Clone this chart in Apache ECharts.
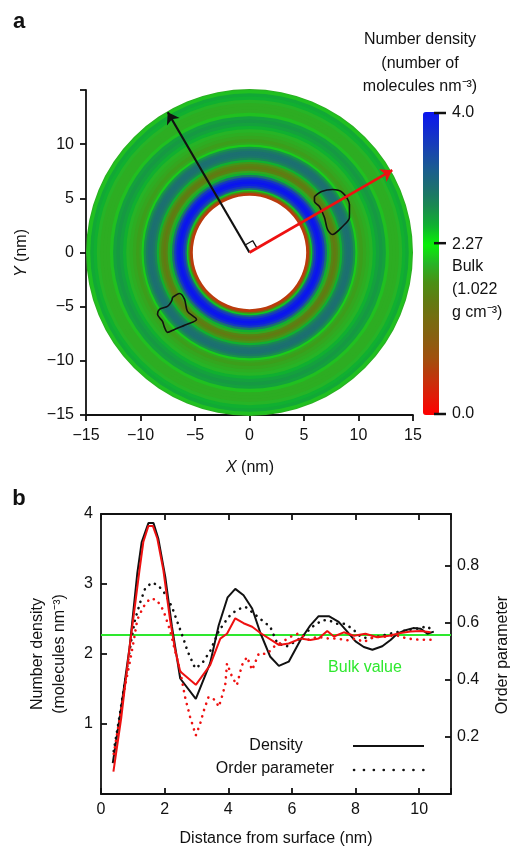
<!DOCTYPE html>
<html><head><meta charset="utf-8">
<script src="https://cdn.jsdelivr.net/npm/echarts@6/dist/echarts.min.js"></script>
<style>html,body{margin:0;padding:0;background:#fff}#c{width:515px;height:847px}</style>
</head><body><div id="c"></div>
<script>
'use strict';
// a: radial density map around the particle, b: density / order profiles vs distance

// ── panel a data ─────────────────────────────────────────────
// ring edges (nm) and the density read for each ring
const ringR = [5.2, 5.35, 5.5, 5.65, 5.8, 6.0, 6.2, 6.4, 6.6, 6.8, 7.0, 7.2, 7.4, 7.6, 7.8, 8.0, 8.2, 8.4, 8.6, 8.8, 9.0,
  9.2, 9.4, 9.6, 9.8, 10.0, 10.3, 10.6, 10.9, 11.2, 11.5, 11.8, 12.1, 12.4, 12.7, 13.0, 13.3, 13.6, 13.9, 14.2, 14.5, 14.8, 15.0];
const ringDensity = [0.55, 1.5, 2.4, 3.1, 3.6, 3.9, 4.0, 3.9, 3.6, 3.0, 2.5, 1.9, 1.6, 1.5, 1.6, 1.8, 2.5, 2.8, 2.95, 3.0,
  3.0, 2.9, 2.7, 2.1, 1.9, 1.85, 1.9, 1.95, 2.0, 2.5, 2.6, 2.65, 2.6, 2.05, 1.95, 1.95, 1.95, 2.0, 2.5, 2.55, 2.05, 1.95];
const defectA = [[5.96, 5.16], [6.61, 5.62], [7.61, 5.81], [8.53, 5.53], [9.17, 4.42], [9.17, 3.23], [8.53, 2.40], [7.61, 1.66],
  [7.16, 2.12], [6.88, 3.23], [6.42, 4.24], [5.96, 4.70], [5.96, 5.16]];
const defectB = [[-7.06, -4.15], [-6.42, -3.78], [-5.96, -4.33], [-5.69, -5.44], [-4.86, -6.18], [-5.78, -6.64], [-6.88, -7.10],
  [-7.52, -7.37], [-7.80, -6.91], [-7.98, -6.36], [-8.44, -5.71], [-8.26, -5.25], [-7.52, -4.98], [-7.16, -4.52], [-7.06, -4.15]];
const arrowBlack = [[0, 0], [-7.5, 12.95]];
const arrowRed = [[0, 0], [13.1, 7.6]];
const rightAngle = [[0.69, 0.40], [0.29, 1.09], [-0.40, 0.69]];
const cbarTicks = [4.0, 2.27, 0.0];

// ── panel b data: [distance nm, value] ───────────────────────
const densBlack = [[0.37, 0.44], [0.64, 1.25], [0.90, 2.1], [1.14, 3.15], [1.28, 3.6], [1.49, 3.87], [1.65, 3.87], [1.80, 3.65],
  [2.02, 3.10], [2.23, 2.39], [2.49, 1.65], [2.98, 1.36], [3.43, 1.87], [3.70, 2.41], [3.98, 2.81], [4.22, 2.93], [4.48, 2.84],
  [4.75, 2.65], [5.01, 2.30], [5.32, 1.96], [5.59, 1.83], [5.90, 1.89], [6.27, 2.2], [6.58, 2.41], [6.84, 2.54], [7.16, 2.54],
  [7.47, 2.46], [7.74, 2.32], [8.0, 2.18], [8.26, 2.10], [8.53, 2.06], [8.84, 2.11], [9.10, 2.2], [9.31, 2.29], [9.57, 2.34],
  [9.81, 2.37], [10.05, 2.36], [10.26, 2.29], [10.46, 2.32]];
const densRed = [[0.39, 0.32], [0.64, 1.1], [0.90, 2.1], [1.21, 3.2], [1.33, 3.6], [1.49, 3.83], [1.63, 3.83], [1.77, 3.65],
  [1.96, 3.2], [2.17, 2.49], [2.33, 2.06], [2.49, 1.75], [2.98, 1.56], [3.43, 1.84], [3.75, 2.22], [3.96, 2.29], [4.22, 2.51],
  [4.48, 2.44], [4.75, 2.39], [5.01, 2.30], [5.59, 2.13], [5.90, 2.15], [6.27, 2.22], [6.58, 2.2], [6.84, 2.22], [7.11, 2.33],
  [7.32, 2.25], [7.63, 2.31], [7.95, 2.26], [8.31, 2.29], [8.68, 2.24], [9.05, 2.26], [9.42, 2.30], [9.73, 2.32], [10.05, 2.33],
  [10.36, 2.31]];
const orderBlack = [[0.40, 0.15], [0.55, 0.25], [0.76, 0.40], [0.97, 0.55], [1.07, 0.61], [1.23, 0.67], [1.39, 0.72], [1.60, 0.74],
  [1.80, 0.73], [2.02, 0.70], [2.23, 0.655], [2.44, 0.59], [2.59, 0.544], [2.72, 0.50], [2.96, 0.44], [3.17, 0.456], [3.43, 0.50],
  [3.70, 0.57], [4.01, 0.62], [4.27, 0.645], [4.54, 0.655], [4.80, 0.632], [5.06, 0.608], [5.32, 0.585], [5.53, 0.53], [5.80, 0.515],
  [6.05, 0.53], [6.32, 0.55], [6.64, 0.585], [6.95, 0.608], [7.16, 0.608], [7.42, 0.596], [7.63, 0.596], [7.90, 0.579], [8.16, 0.55],
  [8.42, 0.544], [8.68, 0.55], [9.0, 0.559], [9.31, 0.567], [9.63, 0.573], [9.94, 0.579], [10.26, 0.587], [10.45, 0.567]];
const orderRed = [[0.40, 0.14], [0.55, 0.24], [0.76, 0.38], [0.92, 0.47], [1.02, 0.53], [1.14, 0.61], [1.33, 0.655], [1.54, 0.684],
  [1.75, 0.68], [1.96, 0.643], [2.17, 0.573], [2.33, 0.50], [2.49, 0.43], [2.64, 0.34], [2.80, 0.27], [2.98, 0.205], [3.12, 0.247],
  [3.22, 0.288], [3.38, 0.34], [3.59, 0.329], [3.70, 0.305], [3.80, 0.34], [3.91, 0.386], [3.96, 0.457], [4.12, 0.41], [4.27, 0.381],
  [4.43, 0.451], [4.59, 0.48], [4.75, 0.434], [4.96, 0.492], [5.22, 0.49], [5.43, 0.515], [5.69, 0.532], [5.95, 0.55], [6.21, 0.562],
  [6.53, 0.54], [6.79, 0.55], [7.16, 0.544], [7.42, 0.544], [7.74, 0.538], [8.0, 0.544], [8.26, 0.532], [8.58, 0.55], [8.9, 0.55],
  [9.26, 0.556], [9.63, 0.544], [9.99, 0.54], [10.45, 0.54]];
const bulkDensity = 2.27;

// ── style ────────────────────────────────────────────────────
const FONT = "'Liberation Sans', Arial, sans-serif";
const INK = '#111';
const RED = '#ee1111';
const GREEN = '#2ee82e';
// colour ramp, evenly spaced from 0 to 4
const CMAP = ['#ff0000', '#e01c08', '#c0360c', '#a0500e', '#8a5e10', '#786c10', '#627a12', '#4a9014', '#26b426',
  '#08f008', '#10b030', '#1a8a50', '#1c7070', '#1a5c90', '#1844b0', '#122cd0', '#0a14f0'];

const minus = v => String(v).replace('-', '\u2212');
const txt = (x, y, s, o, rot) => ({ type: 'text', x, y, rotation: rot || 0,
  style: Object.assign({ text: s, font: '16px ' + FONT, fill: INK, align: 'center', verticalAlign: 'middle' }, o || {}) });
const italicRich = { i: { fontStyle: 'italic', fontFamily: FONT, fontSize: 16 } };

const axisBase = {
  axisLine: { onZero: false, lineStyle: { color: INK, width: 1.8 } },
  axisTick: { lineStyle: { color: INK, width: 1.8 }, length: 6 },
  axisLabel: { color: INK, fontFamily: FONT, fontSize: 16 },
  splitLine: { show: false }
};
const ax = (o, tick, label) => Object.assign({}, axisBase, o, {
  axisTick: Object.assign({}, axisBase.axisTick, tick || {}),
  axisLabel: Object.assign({}, axisBase.axisLabel, label || {})
});

// outer rings first so each inner ring can overlap its neighbour by a pixel (no seams)
const ringData = ringDensity.map((d, i) => [ringR[i], ringR[i + 1], d]).reverse();

const chart = echarts.init(document.getElementById('c'));
chart.setOption({
  animation: false,
  grid: [
    { left: 86, top: 90, width: 327, height: 325 },
    { left: 101, top: 514, width: 350, height: 280 }
  ],
  xAxis: [
    ax({ gridIndex: 0, type: 'value', min: -15, max: 15, interval: 5 }, null, { margin: 13, formatter: minus }),
    ax({ gridIndex: 1, type: 'value', min: 0, max: 11, interval: 2 }, { inside: true },
      { margin: 8, formatter: v => v % 2 ? '' : v }),
    ax({ gridIndex: 1, type: 'value', position: 'top', min: 0, max: 11, interval: 2 }, { inside: true }, { show: false })
  ],
  yAxis: [
    ax({ gridIndex: 0, type: 'value', min: -15, max: 15, interval: 5 }, null,
      { margin: 12, formatter: v => v === 15 ? '' : minus(v) }),
    ax({ gridIndex: 1, type: 'value', min: 0, max: 4, interval: 1 }, { inside: true },
      { margin: 8, formatter: v => v === 0 ? '' : v }),
    ax({ gridIndex: 1, type: 'value', position: 'right', min: 0, max: 0.98, interval: 0.2 }, { inside: true },
      { margin: 6, formatter: v => (v > 0.1 && v < 0.9) ? v.toFixed(1) : '' })
  ],
  visualMap: {
    type: 'continuous', seriesIndex: 0, dimension: 2, min: 0, max: 4,
    inRange: { color: CMAP }, calculable: false, hoverLink: false,
    left: 423, top: 112, itemWidth: 16, itemHeight: 303, padding: 0, text: null
  },
  series: [
    {
      type: 'custom', xAxisIndex: 0, yAxisIndex: 0, data: ringData, z: 1, silent: true,
      renderItem: (params, api) => {
        const c = api.coord([0, 0]);
        const r0 = api.coord([api.value(0), 0])[0] - c[0];
        const r1 = api.coord([api.value(1), 0])[0] - c[0];
        const last = api.value(1) >= 15;
        return { type: 'ring', shape: { cx: c[0], cy: c[1], r0: r0, r: last ? r1 : r1 + 1.2 },
          style: { fill: api.visual('color') } };
      }
    },
    { type: 'line', xAxisIndex: 0, yAxisIndex: 0, data: defectA, smooth: 0.3, symbol: 'none', z: 3,
      lineStyle: { color: INK, width: 1.6 } },
    { type: 'line', xAxisIndex: 0, yAxisIndex: 0, data: defectB, smooth: 0.3, symbol: 'none', z: 3,
      lineStyle: { color: INK, width: 1.6 } },
    { type: 'line', xAxisIndex: 0, yAxisIndex: 0, data: rightAngle, symbol: 'none', z: 3,
      lineStyle: { color: INK, width: 1.3 } },
    { type: 'lines', coordinateSystem: 'cartesian2d', xAxisIndex: 0, yAxisIndex: 0, z: 4,
      symbol: ['none', 'arrow'], symbolSize: 11,
      data: [
        { coords: arrowBlack, lineStyle: { color: INK, width: 2.2, opacity: 1 } },
        { coords: arrowRed, lineStyle: { color: RED, width: 2.6, opacity: 1 } }
      ] },

    // panel b
    { type: 'line', xAxisIndex: 1, yAxisIndex: 1, data: densBlack, symbol: 'none', z: 4,
      lineStyle: { color: INK, width: 2 },
      markLine: { silent: true, symbol: 'none', label: { show: false }, z: 2,
        lineStyle: { color: GREEN, width: 2, type: 'solid' }, data: [{ yAxis: bulkDensity }] } },
    { type: 'line', xAxisIndex: 1, yAxisIndex: 1, data: densRed, symbol: 'none', z: 5,
      lineStyle: { color: RED, width: 2 } },
    { type: 'line', xAxisIndex: 1, yAxisIndex: 2, data: orderBlack, symbol: 'none', z: 4,
      lineStyle: { color: INK, width: 2.6, type: [0.1, 6.5], cap: 'round' } },
    { type: 'line', xAxisIndex: 1, yAxisIndex: 2, data: orderRed, symbol: 'none', z: 5,
      lineStyle: { color: RED, width: 2.6, type: [0.1, 6.5], cap: 'round' } }
  ],
  graphic: [
    txt(19, 22, 'a', { font: 'bold 22px ' + FONT }),
    txt(19, 499, 'b', { font: 'bold 22px ' + FONT }),
    // colour bar title and labels
    txt(420, 40, 'Number density'),
    txt(420, 64, '(number of'),
    txt(420, 87, 'molecules nm\u207B\u00B3)'),
    txt(452, 113, '4.0', { align: 'left' }),
    txt(452, 245, '2.27', { align: 'left' }),
    txt(452, 267, 'Bulk', { align: 'left' }),
    txt(452, 290, '(1.022', { align: 'left' }),
    txt(452, 313, 'g cm\u207B\u00B3)', { align: 'left' }),
    txt(452, 414, '0.0', { align: 'left' }),
    ...cbarTicks.map(v => ({ type: 'line', z: 10,
      shape: { x1: 434, y1: 414 - v / 4 * 301, x2: 446, y2: 414 - v / 4 * 301 },
      style: { stroke: INK, lineWidth: 2.5 } })),
    // panel a labels
    txt(343, 174, 'Defect'),
    txt(140, 297, 'Defect'),
    txt(250, 468, '{i|X} (nm)', { rich: italicRich }),
    txt(22, 253, '{i|Y} (nm)', { rich: italicRich }, Math.PI / 2),
    // panel b labels
    txt(38, 654, 'Number density', null, Math.PI / 2),
    txt(60, 654, '(molecules nm\u207B\u00B3)', null, Math.PI / 2),
    txt(503, 655, 'Order parameter', null, Math.PI / 2),
    txt(276, 839, 'Distance from surface (nm)'),
    txt(365, 668, 'Bulk value', { fill: GREEN }),
    txt(276, 746, 'Density'),
    txt(275, 769, 'Order parameter'),
    { type: 'line', shape: { x1: 353, y1: 746, x2: 424, y2: 746 }, style: { stroke: INK, lineWidth: 2 } },
    { type: 'line', shape: { x1: 354, y1: 770, x2: 424, y2: 770 },
      style: { stroke: INK, lineWidth: 2.6, lineDash: [0.1, 9.8], lineCap: 'round' } }
  ]
});
</script></body></html>
